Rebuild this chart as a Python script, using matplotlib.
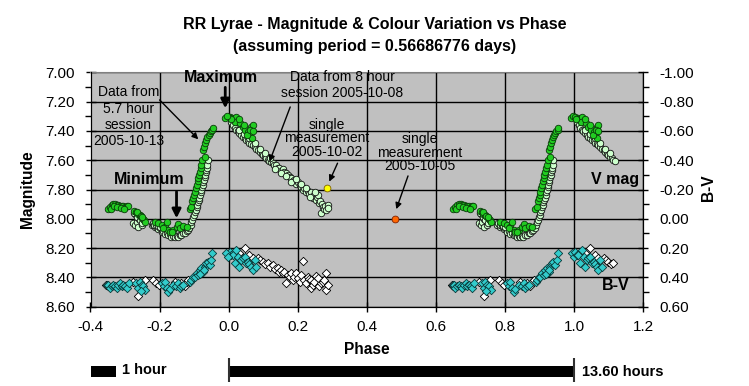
import matplotlib
matplotlib.use("Agg")
import matplotlib.pyplot as plt
from matplotlib.ticker import FixedLocator
import numpy as np

plt.rcParams['font.family'] = ['Liberation Sans', 'DejaVu Sans']
plt.rcParams['axes.unicode_minus'] = False

# ---------------- data (phase within one cycle) ----------------
# V magnitude, session 2005-10-13 (green)
green_phase = [0.650, 0.655, 0.661, 0.666, 0.671, 0.676, 0.681, 0.686, 0.690, 0.695, 0.700, 0.705, 0.708,
               0.658, 0.668, 0.678, 0.688, 0.698,
               0.727, 0.732, 0.737, 0.742, 0.747, 0.752, 0.756, 0.758, 0.735, 0.745, 0.750,
               0.786, 0.796, 0.806, 0.815, 0.820, 0.825, 0.830, 0.839, 0.849, 0.854, 0.859, 0.868, 0.878, 0.810, 0.835,
               0.887, 0.892, 0.895, 0.897, 0.900, 0.902, 0.905, 0.907, 0.910, 0.912, 0.914, 0.916, 0.919, 0.921,
               0.924, 0.931, 0.926, 0.929, 0.932, 0.935, 0.938, 0.942, 0.945, 0.948, 0.952, 0.954,
               0.990, 0.996, 0.003, 0.010, 0.015, 0.022, 0.027, 0.019, 0.034, 0.041, 0.048, 0.056, 0.065, 0.070,
               0.060, 0.067, 0.054, 0.006, 0.030, 0.045, 0.062, 0.069]
green_mag = [7.934, 7.920, 7.905, 7.900, 7.900, 7.903, 7.905, 7.910, 7.912, 7.915, 7.917, 7.915, 7.912,
             7.930, 7.915, 7.920, 7.925, 7.930,
             7.944, 7.955, 7.965, 7.975, 7.990, 8.000, 8.010, 8.020, 7.950, 7.980, 7.985,
             8.019, 8.030, 8.042, 8.053, 8.019, 8.076, 8.087, 8.076, 8.053, 8.035, 8.064, 8.048, 8.057, 8.060, 8.090,
             7.930, 7.917, 7.880, 7.859, 7.835, 7.814, 7.790, 7.768, 7.745, 7.723, 7.700, 7.678, 7.655, 7.632,
             7.598, 7.580, 7.530, 7.510, 7.484, 7.460, 7.443, 7.430, 7.416, 7.400, 7.393, 7.382,
             7.313, 7.298, 7.302, 7.309, 7.318, 7.302, 7.330, 7.341, 7.348, 7.375, 7.393, 7.409, 7.371, 7.359,
             7.427, 7.450, 7.427, 7.320, 7.320, 7.360, 7.390, 7.400]

# V magnitude, session 2005-10-08 (pale)
pale_phase = [0.724, 0.729, 0.734, 0.738, 0.744, 0.748, 0.753, 0.740, 0.730, 0.726, 0.735, 0.742, 0.750,
              0.777, 0.782, 0.786, 0.791, 0.796, 0.801, 0.806, 0.811, 0.815, 0.820, 0.825, 0.830, 0.834, 0.839,
              0.844, 0.849, 0.853, 0.858, 0.863, 0.868, 0.873, 0.878, 0.882, 0.886, 0.890, 0.892, 0.894, 0.897,
              0.900, 0.902, 0.904, 0.907, 0.909, 0.911, 0.913, 0.915, 0.917, 0.919, 0.921, 0.923, 0.925, 0.927,
              0.928, 0.930, 0.932, 0.934, 0.935, 0.937, 0.938, 0.940,
              0.780, 0.785, 0.790, 0.795, 0.800,
              0.008, 0.013, 0.018, 0.022, 0.026, 0.031, 0.036, 0.041, 0.046, 0.051, 0.056, 0.060, 0.065, 0.070,
              0.075, 0.080, 0.085, 0.090, 0.095, 0.099, 0.104, 0.108, 0.113, 0.118, 0.123, 0.128, 0.132, 0.137,
              0.142, 0.147, 0.152, 0.156, 0.161, 0.166, 0.171, 0.176, 0.180, 0.185, 0.190, 0.195, 0.200, 0.205,
              0.209, 0.214, 0.219, 0.224, 0.229, 0.233, 0.238, 0.241, 0.245, 0.248, 0.252, 0.255, 0.258, 0.262,
              0.265, 0.267, 0.270, 0.272, 0.275, 0.278, 0.282, 0.286, 0.288,
              0.030, 0.045, 0.060, 0.075, 0.090, 0.105, 0.120, 0.135, 0.150, 0.165, 0.180, 0.195, 0.210, 0.225,
              0.235, 0.250]
pale_mag = [8.030, 8.042, 8.020, 8.053, 7.990, 8.042, 8.019, 8.000, 7.970, 7.960, 7.985, 8.010, 8.030,
            8.042, 8.035, 8.057, 8.050, 8.071, 8.065, 8.087, 8.080, 8.103, 8.095, 8.112, 8.105, 8.121, 8.115,
            8.126, 8.118, 8.121, 8.108, 8.110, 8.100, 8.098, 8.085, 8.076, 8.060, 8.042, 8.025, 8.008, 7.990,
            7.973, 7.955, 7.939, 7.920, 7.905, 7.888, 7.871, 7.855, 7.837, 7.820, 7.803, 7.785, 7.769, 7.750,
            7.734, 7.717, 7.700, 7.683, 7.666, 7.650, 7.632, 7.598,
            8.030, 8.040, 8.045, 8.050, 8.055,
            7.340, 7.360, 7.380, 7.393, 7.400, 7.416, 7.430, 7.439, 7.450, 7.460, 7.461, 7.480, 7.490, 7.496,
            7.510, 7.520, 7.530, 7.545, 7.555, 7.564, 7.575, 7.586, 7.600, 7.605, 7.610, 7.620, 7.635, 7.632,
            7.650, 7.655, 7.670, 7.660, 7.678, 7.690, 7.700, 7.712, 7.720, 7.740, 7.734, 7.760, 7.750, 7.769,
            7.780, 7.800, 7.791, 7.820, 7.810, 7.830, 7.814, 7.849, 7.860, 7.840, 7.870, 7.850, 7.837, 7.894,
            7.880, 7.962, 7.900, 7.917, 7.930, 7.910, 7.939, 7.905, 7.925,
            7.390, 7.420, 7.450, 7.480, 7.520, 7.550, 7.585, 7.660, 7.690, 7.710, 7.750, 7.730, 7.760, 7.790,
            7.850, 7.820]

# B-V colour index, cyan diamonds
bv_cyan_phase = [0.648, 0.652, 0.656, 0.661, 0.666, 0.671, 0.676, 0.681, 0.686, 0.690, 0.695, 0.700, 0.705, 0.710,
                 0.733, 0.738, 0.743, 0.748, 0.753, 0.758, 0.745,
                 0.806, 0.812, 0.815, 0.820, 0.825, 0.830, 0.839, 0.848, 0.854, 0.858, 0.863, 0.868,
                 0.888, 0.892, 0.897, 0.902, 0.907, 0.912, 0.916, 0.921, 0.926, 0.931, 0.935, 0.940, 0.945, 0.950,
                 0.952, 0.918, 0.928,
                 0.993, 0.998, 0.003, 0.008, 0.012, 0.017, 0.022, 0.027, 0.031, 0.036, 0.041, 0.046, 0.051, 0.056,
                 0.060, 0.065, 0.070, 0.075, 0.080]
bv_cyan = [0.450, 0.455, 0.470, 0.460, 0.450, 0.460, 0.470, 0.450, 0.440, 0.460, 0.450, 0.460, 0.470, 0.440,
           0.440, 0.470, 0.430, 0.450, 0.460, 0.485, 0.490,
           0.440, 0.460, 0.430, 0.470, 0.500, 0.480, 0.450, 0.460, 0.440, 0.470, 0.460, 0.450,
           0.430, 0.417, 0.400, 0.394, 0.371, 0.383, 0.349, 0.337, 0.360, 0.326, 0.303, 0.292, 0.315, 0.281,
           0.231, 0.380, 0.350,
           0.235, 0.260, 0.224, 0.250, 0.246, 0.303, 0.212, 0.258, 0.326, 0.281, 0.270, 0.258, 0.300, 0.292,
           0.310, 0.326, 0.349, 0.281, 0.330]

# B-V colour index, white diamonds
bv_white_phase = [0.645, 0.650, 0.724, 0.738, 0.757, 0.782, 0.791, 0.798, 0.844, 0.863, 0.873, 0.878, 0.883,
                  0.046, 0.031, 0.060, 0.070,
                  0.085, 0.092, 0.099, 0.106, 0.113, 0.120, 0.128, 0.135, 0.142, 0.147, 0.152, 0.157, 0.161,
                  0.166, 0.171, 0.176, 0.181, 0.186, 0.190, 0.195, 0.200, 0.205, 0.209, 0.214, 0.219, 0.224,
                  0.229, 0.233, 0.238, 0.238, 0.243, 0.248, 0.253, 0.258, 0.262, 0.267, 0.272, 0.277, 0.282,
                  0.282, 0.286]
bv_white = [0.455, 0.460, 0.430, 0.526, 0.420, 0.417, 0.440, 0.450, 0.430, 0.440, 0.458, 0.430, 0.417,
            0.200, 0.230, 0.250, 0.270,
            0.269, 0.280, 0.292, 0.310, 0.303, 0.330, 0.315, 0.340, 0.337, 0.360, 0.349, 0.370, 0.360,
            0.440, 0.383, 0.400, 0.371, 0.420, 0.394, 0.370, 0.405, 0.430, 0.383, 0.285, 0.417, 0.440,
            0.394, 0.410, 0.417, 0.474, 0.450, 0.428, 0.390, 0.405, 0.460, 0.440, 0.430, 0.417, 0.371,
            0.485, 0.451]

# single measurements
single_1002 = (0.284, 7.79)
single_1005 = (0.480, 8.00)

period_hours = 13.60
scale_bar_hours = [1.0, 13.60]

x_ticks = [-0.4, -0.2, 0.0, 0.2, 0.4, 0.6, 0.8, 1.0, 1.2]
mag_ticks = [7.0, 7.2, 7.4, 7.6, 7.8, 8.0, 8.2, 8.4, 8.6]
mag_minor = [7.1, 7.3, 7.5, 7.7, 7.9, 8.1, 8.3, 8.5]
bv_ticks = [-1.0, -0.8, -0.6, -0.4, -0.2, 0.0, 0.2, 0.4, 0.6]
bv_minor = [-0.9, -0.7, -0.5, -0.3, -0.1, 0.1, 0.3, 0.5]


def wrap(ph, val):
    """repeat the folded light curve: one cycle plus the wrap-around copies shown in the chart"""
    ph = np.asarray(ph, float)
    val = np.asarray(val, float)
    lo = ph > 0.6
    hi = ph < 0.12
    return (np.concatenate([ph, ph[lo] - 1.0, ph[hi] + 1.0]),
            np.concatenate([val, val[lo], val[hi]]))


W, H = 749, 386
fig = plt.figure(figsize=(W / 100, H / 100), dpi=100)
L, R, T, B = 90.5, 643.3, 72.4, 306.7
ax = fig.add_axes([L / W, 1 - B / H, (R - L) / W, (B - T) / H])
ax.set_facecolor('#c0c0c0')
ax.set_xlim(-0.4, 1.2)
ax.set_ylim(8.6, 7.0)
ax.set_xticks(x_ticks)
ax.set_xticklabels(['%.1f' % t for t in x_ticks])
ax.set_yticks(mag_ticks)
ax.set_yticklabels(['%.2f' % t for t in mag_ticks])
ax.yaxis.set_minor_locator(FixedLocator(mag_minor))
ax.grid(True, which='major', color='black', lw=1)
ax.set_axisbelow(True)
ax.tick_params(axis='x', direction='inout', length=7, width=1, labelsize=11, pad=6)
ax.tick_params(axis='y', which='major', direction='inout', length=7, width=1, labelsize=11, pad=8)
ax.tick_params(axis='y', which='minor', direction='out', length=4, width=1)
for s in ['left', 'bottom']:
    ax.spines[s].set_color('black')
ax.spines['top'].set_color('#808080')
ax.spines['right'].set_color('black')

ax2 = ax.twinx()
ax2.set_ylim(0.6, -1.0)
ax2.set_yticks(bv_ticks)
ax2.set_yticklabels(['%.2f' % t for t in bv_ticks])
ax2.yaxis.set_minor_locator(FixedLocator(bv_minor))
ax2.tick_params(axis='y', which='major', direction='inout', length=7, width=1, labelsize=11, pad=8)
ax2.tick_params(axis='y', which='minor', direction='out', length=4, width=1)
ax2.spines['top'].set_visible(False)

# V magnitude series
px, py = wrap(pale_phase, pale_mag)
ax.scatter(px, py, s=22, marker='o', facecolor='#ccffcc', edgecolor='#101010', linewidths=0.6, zorder=3)
gx, gy = wrap(green_phase, green_mag)
ax.scatter(gx, gy, s=22, marker='o', facecolor='#22cc22', edgecolor='#0a3a0a', linewidths=0.6, zorder=4)
ax.scatter([single_1002[0]], [single_1002[1]], s=24, marker='o', facecolor='#ffff00',
           edgecolor='#806000', linewidths=0.6, zorder=4)
ax.scatter([single_1005[0]], [single_1005[1]], s=24, marker='o', facecolor='#ff6600',
           edgecolor='#802000', linewidths=0.6, zorder=4)

# B-V series
wx, wy = wrap(bv_white_phase, bv_white)
ax2.scatter(wx, wy, s=18, marker='D', facecolor='white', edgecolor='black', linewidths=0.6, zorder=3)
cx, cy = wrap(bv_cyan_phase, bv_cyan)
ax2.scatter(cx, cy, s=18, marker='D', facecolor='#33cccc', edgecolor='#0a3a3a', linewidths=0.6, zorder=4)

# annotations
arr_thin = dict(arrowstyle='-|>', color='black', lw=1, mutation_scale=9, shrinkA=0, shrinkB=0)
arr_bold = dict(arrowstyle='-|>', color='black', lw=2, mutation_scale=13, shrinkA=0, shrinkB=0)
fs_note = 10
ax.text(-0.29, 7.302, 'Data from\n5.7 hour\nsession\n2005-10-13', ha='center', va='center',
        fontsize=fs_note, linespacing=1.2, zorder=6)
ax.annotate('', xy=(-0.088, 7.457), xytext=(-0.200, 7.188), arrowprops=arr_thin, zorder=6)
ax.text(-0.023, 7.033, 'Maximum', ha='center', va='center', fontsize=11.5, fontweight='bold', zorder=6)
ax.annotate('', xy=(-0.010, 7.245), xytext=(-0.010, 7.102), arrowprops=arr_bold, zorder=6)
ax.text(-0.230, 7.734, 'Minimum', ha='center', va='center', fontsize=11.5, fontweight='bold', zorder=6)
ax.annotate('', xy=(-0.151, 7.996), xytext=(-0.151, 7.814), arrowprops=arr_bold, zorder=6)
ax.text(0.328, 7.088, 'Data from 8 hour\nsession 2005-10-08', ha='center', va='center',
        fontsize=fs_note, linespacing=1.2, zorder=6)
ax.annotate('', xy=(0.118, 7.61), xytext=(0.178, 7.236), arrowprops=arr_thin, zorder=6)
ax.text(0.284, 7.45, 'single\nmeasurement\n2005-10-02', ha='center', va='center',
        fontsize=fs_note, linespacing=0.95, zorder=6)
ax.annotate('', xy=(0.291, 7.746), xytext=(0.315, 7.62), arrowprops=arr_thin, zorder=6)
ax.text(0.554, 7.549, 'single\nmeasurement\n2005-10-05', ha='center', va='center',
        fontsize=fs_note, linespacing=0.97, zorder=6)
ax.annotate('', xy=(0.485, 7.934), xytext=(0.519, 7.707), arrowprops=arr_thin, zorder=6)
ax.text(1.117, 7.734, 'V mag', ha='center', va='center', fontsize=11.5, fontweight='bold', zorder=6)
ax.text(1.121, 8.456, 'B-V', ha='center', va='center', fontsize=11.5, fontweight='bold', zorder=6)

# titles and axis labels
fig.text(0.5, 1 - 25 / H, 'RR Lyrae - Magnitude & Colour Variation vs Phase', ha='center', va='center',
         fontsize=11.5, fontweight='bold')
fig.text(0.5, 1 - 47 / H, '(assuming period = 0.56686776 days)', ha='center', va='center',
         fontsize=11.5, fontweight='bold')
fig.text(27.5 / W, 1 - 189 / H, 'Magnitude', rotation=90, ha='center', va='center', fontsize=11.2,
         fontweight='bold')
fig.text(708.3 / W, 1 - 188 / H, 'B-V', rotation=90, ha='center', va='center', fontsize=11.2,
         fontweight='bold')
fig.text((L + R) / 2 / W, 1 - 349.3 / H, 'Phase', ha='center', va='center', fontsize=11.2,
         fontweight='bold')

# time scale bars
bax = fig.add_axes([L / W, 0, (R - L) / W, 31 / H])
bax.set_xlim(-0.4, 1.2)
bax.set_ylim(386, 355)
bax.axis('off')
starts = [-0.4, 0.0]
widths = [h / period_hours for h in scale_bar_hours]
bax.barh([371.5, 371.5], widths, left=starts, height=11, color='black')
bax.vlines([0.0, 1.0], 358, 382, color='#303030', lw=1.5)
bax.text(-0.309, 370.5, '1 hour', ha='left', va='center', fontsize=10.5, fontweight='bold')
bax.text(1.023, 372, '%.2f hours' % period_hours, ha='left', va='center', fontsize=10.5, fontweight='bold')

fig.savefig('out.png', dpi=100)
